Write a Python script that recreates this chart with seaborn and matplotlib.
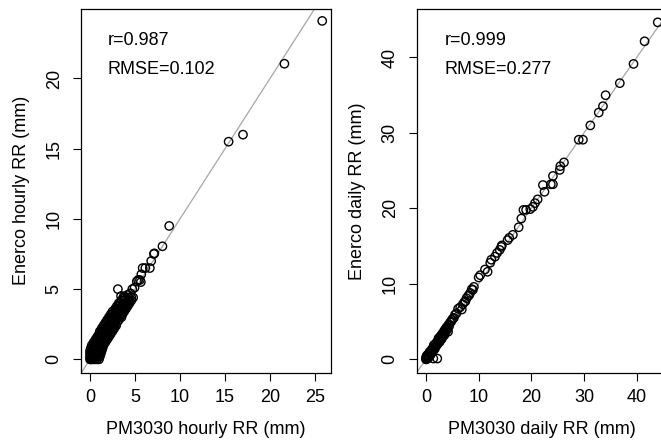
import pandas as pd
import seaborn as sns
import matplotlib.pyplot as plt

# Hourly rainfall pairs (PM3030 vs Enerco)
hourly_pm = [
    25.8, 21.6, 17.0, 15.4, 8.8, 8.05, 7.15, 7.1, 6.8, 6.65, 6.15, 5.85,
    5.7, 5.55, 5.65, 5.2, 5.35, 4.95, 4.7, 3.1, 3.45, 3.8, 4.2, 4.5,
    0.0, 0.1, 0.2, 0.4, 0.6, 0.8, 1.0, 0.3, 0.5,
    0.0, 0.1, 0.3, 0.5, 0.7, 0.9, 1.1,
    0.0, 0.2, 0.4, 0.6, 0.8, 1.0, 1.2,
    0.0, 0.2, 0.4, 0.6, 0.8, 1.1, 1.3,
    0.1, 0.3, 0.5, 0.7, 0.9, 1.2, 1.4,
    0.2, 0.4, 0.6, 0.9, 1.1, 1.3, 1.5,
    0.4, 0.6, 0.8, 1.0, 1.3, 1.5, 1.7,
    0.6, 0.8, 1.0, 1.2, 1.5, 1.7, 1.9,
    0.8, 1.0, 1.2, 1.5, 1.7, 1.9, 2.1,
    1.0, 1.2, 1.4, 1.7, 1.9, 2.1, 2.3,
    1.1, 1.3, 1.6, 1.9, 2.1, 2.3, 2.5,
    1.3, 1.5, 1.8, 2.0, 2.3, 2.5, 2.7,
    1.5, 1.7, 2.0, 2.2, 2.5, 2.7, 2.9,
    1.7, 1.9, 2.2, 2.5, 2.7, 3.0,
    1.9, 2.1, 2.4, 2.7, 2.9, 3.2,
    2.1, 2.3, 2.6, 2.9, 3.1, 3.3, 3.5,
    2.3, 2.5, 2.8, 3.1, 3.4, 3.6,
    2.5, 2.8, 3.0, 3.3, 3.6, 3.8,
    2.8, 3.0, 3.2, 3.5, 3.8, 4.0,
    3.0, 3.2, 3.5, 3.8, 4.0, 4.2,
    3.2, 3.4, 3.7, 4.0, 4.2, 4.4,
    3.5, 3.7, 3.9, 4.2, 4.4, 4.6,
    3.7, 3.9, 4.3, 4.6, 4.8,
]
hourly_enerco = [
    24.1, 21.05, 16.0, 15.5, 9.5, 8.05, 7.55, 7.5, 7.0, 6.5, 6.5, 6.5,
    6.05, 5.65, 5.5, 5.55, 5.65, 5.1, 5.0, 5.0, 4.5, 4.5, 4.6, 4.7,
    0.0, 0.0, 0.0, 0.0, 0.0, 0.0, 0.0, 0.1, 0.1,
    0.2, 0.2, 0.2, 0.2, 0.2, 0.2, 0.2,
    0.4, 0.4, 0.4, 0.4, 0.4, 0.4, 0.4,
    0.6, 0.6, 0.6, 0.6, 0.6, 0.6, 0.6,
    0.8, 0.8, 0.8, 0.8, 0.8, 0.8, 0.8,
    1.0, 1.0, 1.0, 1.0, 1.0, 1.0, 1.0,
    1.2, 1.2, 1.2, 1.2, 1.2, 1.2, 1.2,
    1.4, 1.4, 1.4, 1.4, 1.4, 1.4, 1.4,
    1.6, 1.6, 1.6, 1.6, 1.6, 1.6, 1.6,
    1.8, 1.8, 1.8, 1.8, 1.8, 1.8, 1.8,
    2.0, 2.0, 2.0, 2.0, 2.0, 2.0, 2.0,
    2.2, 2.2, 2.2, 2.2, 2.2, 2.2, 2.2,
    2.4, 2.4, 2.4, 2.4, 2.4, 2.4, 2.4,
    2.6, 2.6, 2.6, 2.6, 2.6, 2.6,
    2.8, 2.8, 2.8, 2.8, 2.8, 2.8,
    3.0, 3.0, 3.0, 3.0, 3.0, 3.0, 3.0,
    3.2, 3.2, 3.2, 3.2, 3.2, 3.2,
    3.4, 3.4, 3.4, 3.4, 3.4, 3.4,
    3.6, 3.6, 3.6, 3.6, 3.6, 3.6,
    3.8, 3.8, 3.8, 3.8, 3.8, 3.8,
    4.0, 4.0, 4.0, 4.0, 4.0, 4.0,
    4.2, 4.2, 4.2, 4.2, 4.2, 4.2,
    4.4, 4.4, 4.4, 4.4, 4.4,
]

# Daily rainfall pairs
daily_pm = [
    0.0, 0.1, 0.2, 0.0, 0.3, 0.1, 0.4, 0.5, 0.2, 0.6, 0.7, 0.8, 0.9, 1.0,
    1.1, 1.2, 1.3, 1.4, 1.5, 1.6, 1.7, 1.8, 1.9, 2.0, 2.1, 2.2, 2.3, 2.4,
    2.5, 2.6, 2.7, 2.8, 2.9, 3.0, 3.1, 3.2, 3.3, 3.4, 3.5, 3.6, 3.7, 3.8,
    3.9, 4.0, 4.1, 4.3, 4.4, 4.6, 4.8, 4.9, 5.1, 5.3, 5.5, 5.8, 6.1, 6.5,
    6.8, 7.0, 7.3, 7.5, 7.7, 8.0, 8.2, 8.4, 8.7, 8.9, 9.1, 10.0, 10.3,
    11.2, 11.7, 12.2, 12.4, 13.1, 13.5, 14.0, 14.3, 14.4, 15.5, 15.8,
    16.5, 17.6, 18.1, 18.5, 19.0, 19.8, 20.3, 20.7, 21.2, 22.2, 22.5,
    23.7, 24.1, 24.1, 25.4, 25.5, 26.2, 29.0, 29.8, 31.2, 32.8, 33.6,
    34.1, 36.8, 39.4, 41.5, 44.0,
    0.5, 0.9, 1.3, 1.7, 2.1, 2.6, 3.0, 3.5, 0.3, 0.7, 1.5, 2.4,
    1.4, 2.15, 4.2,
]
daily_enerco = [
    0.0, 0.0, 0.1, 0.2, 0.2, 0.4, 0.3, 0.6, 0.5, 0.4, 0.8, 0.7, 1.0, 0.9,
    1.3, 1.1, 1.5, 1.3, 1.6, 1.8, 1.6, 2.0, 2.1, 1.9, 2.3, 2.4, 2.2, 2.6,
    2.8, 2.5, 2.9, 3.1, 2.8, 3.2, 3.4, 3.1, 3.5, 3.7, 3.4, 3.9, 4.0, 3.7,
    4.2, 4.3, 4.0, 4.6, 4.4, 4.9, 5.0, 5.2, 5.4, 5.5, 5.9, 6.1, 6.7, 6.9,
    6.6, 7.3, 7.6, 7.7, 8.1, 8.4, 8.5, 8.8, 9.3, 9.2, 9.6, 10.85, 11.15,
    11.9, 11.6, 12.8, 13.2, 13.6, 14.1, 14.5, 14.9, 15.1, 15.8, 16.1,
    16.5, 17.5, 18.65, 19.8, 19.8, 19.9, 20.2, 20.7, 21.2, 23.1, 22.2,
    23.2, 23.2, 24.3, 25.1, 25.6, 26.1, 29.1, 29.1, 31.0, 32.7, 33.55,
    35.0, 36.6, 39.15, 42.15, 44.66,
    0.2, 0.6, 1.0, 1.4, 1.9, 2.3, 2.7, 3.2, 0.6, 1.0, 1.9, 2.8,
    0.1, 0.1, 3.65,
]

hourly_stats = ["r=0.987", "RMSE=0.102"]
daily_stats = ["r=0.999", "RMSE=0.277"]

sns.set_style("white")
plt.rcParams["font.family"] = ["Liberation Sans", "DejaVu Sans"]
plt.rcParams["font.size"] = 13
plt.rcParams["text.color"] = "black"
plt.rcParams["axes.labelcolor"] = "black"
plt.rcParams["xtick.color"] = "black"
plt.rcParams["ytick.color"] = "black"

fig = plt.figure(figsize=(6.61, 4.46), dpi=100)
ax1 = fig.add_axes([0.1221, 0.1641, 0.3794, 0.8161])
ax2 = fig.add_axes([0.6304, 0.1641, 0.3787, 0.8161])

panels = [
    (ax1, hourly_pm, hourly_enerco, hourly_stats, "hourly",
     (-1.03, 26.83), (-0.96, 24.96), range(0, 26, 5), range(0, 21, 5),
     (2.0, 22.36, 20.3)),
    (ax2, daily_pm, daily_enerco, daily_stats, "daily",
     (-1.76, 45.76), (-1.79, 46.45), range(0, 41, 10), range(0, 41, 10),
     (3.6, 41.63, 37.79)),
]

for ax, xs, ys, stats, kind, xlim, ylim, xt, yt, tpos in panels:
    df = pd.DataFrame({"pm": xs, "enerco": ys})
    ax.axline((0, 0), slope=1, color="#a6a6a6", lw=0.9, zorder=1)
    sns.scatterplot(data=df, x="pm", y="enerco", ax=ax, marker="o",
                    fc="none", ec="black", s=36, linewidth=1.0, zorder=2)
    ax.set_xlim(*xlim)
    ax.set_ylim(*ylim)
    ax.set_xticks(list(xt))
    ax.set_yticks(list(yt))
    for sp in ax.spines.values():
        sp.set_visible(True)
        sp.set_color("black")
        sp.set_linewidth(0.9)
    ax.tick_params(axis="both", direction="out", length=5.8, width=0.8,
                   color="black", labelcolor="black", labelsize=13,
                   bottom=True, left=True, top=False, right=False)
    ax.tick_params(axis="x", pad=6.0)
    ax.tick_params(axis="y", pad=7.2)
    for lab in ax.get_yticklabels():
        lab.set_rotation(90)
        lab.set_va("center")
    ax.set_xlabel(f"PM3030 {kind} RR (mm)", fontsize=13, color="black")
    ax.set_ylabel(f"Enerco {kind} RR (mm)", fontsize=13, color="black")
    ax.xaxis.set_label_coords(0.5, -0.133)
    ax.yaxis.set_label_coords(-0.204, 0.5)
    ax.text(tpos[0], tpos[1], stats[0], fontsize=13, ha="left", va="baseline")
    ax.text(tpos[0], tpos[2], stats[1], fontsize=13, ha="left", va="baseline")

fig.savefig("out.png", dpi=100)
